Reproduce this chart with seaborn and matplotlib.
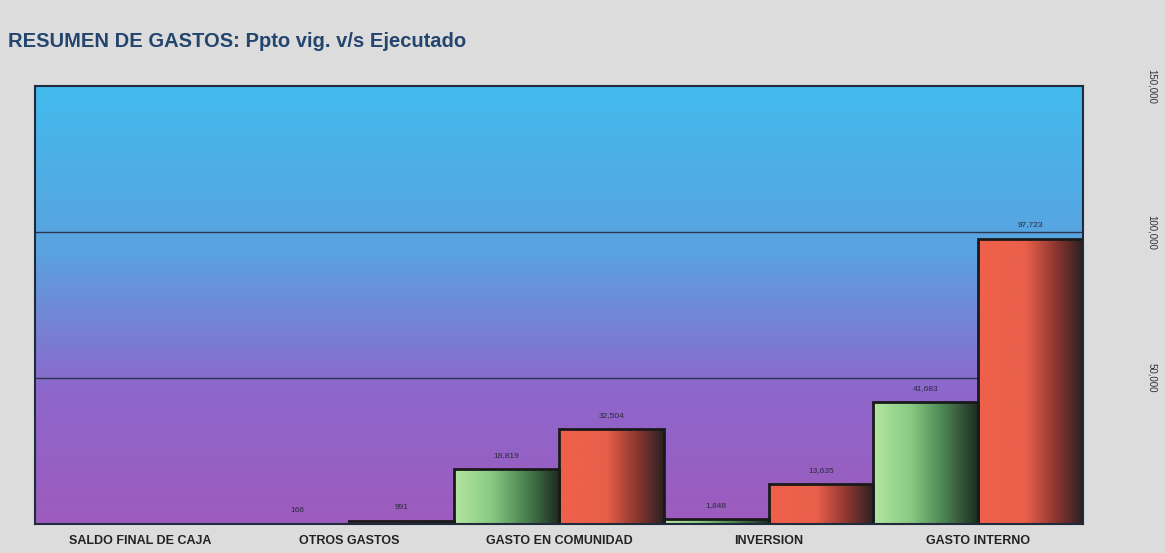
import matplotlib
matplotlib.use("Agg")
import matplotlib.pyplot as plt
import numpy as np
import pandas as pd
import seaborn as sns
from matplotlib.colors import LinearSegmentedColormap

# Data
categories = ["SALDO FINAL DE CAJA", "OTROS GASTOS", "GASTO EN COMUNIDAD",
              "INVERSION", "GASTO INTERNO"]
ppto_vig = [0, 166, 18819, 1848, 41683]
ejecutado = [0, 991, 32504, 13635, 97723]
series_names = ["Ppto vig.", "Ejecutado"]

df = pd.DataFrame({
    "categoria": categories * 2,
    "serie": [series_names[0]] * 5 + [series_names[1]] * 5,
    "valor": ppto_vig + ejecutado,
})

sns.set_style("white")
plt.rcParams["font.family"] = ["Liberation Sans", "DejaVu Sans"]

fig = plt.figure(figsize=(11.65, 5.53), dpi=100)
fig.patch.set_facecolor("#dcdcdc")

ax = fig.add_axes([0.030, 0.052, 0.8996, 0.7925])

sns.barplot(data=df, x="categoria", y="valor", hue="serie", order=categories,
            hue_order=series_names, width=1.0, gap=0, palette=["#7fc77f", "#e85a45"],
            legend=False, ax=ax, zorder=3)

# plot area gradient (sky blue at top, purple at bottom)
bg_cmap = LinearSegmentedColormap.from_list(
    "bg", [(0.0, "#9d5cbd"), (0.30, "#8e66cc"), (0.62, "#5aa2e0"), (1.0, "#42bbec")])
grad = np.linspace(0, 1, 256).reshape(-1, 1)
ax.imshow(grad, cmap=bg_cmap, aspect="auto", extent=[-0.5, 4.5, 0, 150000],
          origin="lower", zorder=0)

# horizontal gradient fills on the bars
green_cmap = LinearSegmentedColormap.from_list(
    "g", [(0.0, "#b4e6a0"), (0.35, "#8acb84"), (0.65, "#4f8a55"), (1.0, "#1e2c22")])
red_cmap = LinearSegmentedColormap.from_list(
    "r", [(0.0, "#f0604a"), (0.45, "#e9604a"), (0.75, "#8a3530"), (1.0, "#2a2222")])
hgrad = np.linspace(0, 1, 256).reshape(1, -1)
n = len(categories)
for i, p in enumerate(ax.patches[:2 * n]):
    x0, w, h = p.get_x(), p.get_width(), p.get_height()
    if h <= 0:
        p.set_visible(False)
        continue
    cmap = green_cmap if i < n else red_cmap
    im = ax.imshow(hgrad, cmap=cmap, aspect="auto", extent=[x0, x0 + w, 0, h],
                   zorder=3)
    im.set_clip_path(p)
    p.set_facecolor("none")
    p.set_edgecolor("#1a1a1a")
    p.set_linewidth(2)
    p.set_zorder(4)
    ax.text(x0 + w / 2, h + 3500, f"{h:,.0f}", ha="center", va="bottom",
            fontsize=6, color="#2a2a3a", zorder=5)

ax.set_xlim(-0.5, 4.5)
ax.set_ylim(0, 150000)

# grid lines
for yv in [50000, 100000]:
    ax.axhline(yv, color="#2b3550", lw=1, zorder=2)

for s in ax.spines.values():
    s.set_color("#1f2a3a")
    s.set_linewidth(1.5)
    s.set_visible(True)
    s.set_zorder(6)

ax.yaxis.tick_right()
ax.set_yticks([50000, 100000, 150000])
ax.set_yticklabels(["50,000", "100,000", "150,000"], rotation=-90,
                   fontsize=7, color="#333333", va="center")
ax.tick_params(axis="y", length=0, pad=46)
ax.tick_params(axis="x", length=0, pad=8)
ax.set_xticks(range(n))
ax.set_xticklabels(categories, fontsize=9, fontweight="bold", color="#222222")
ax.set_xlabel("")
ax.set_ylabel("")

fig.text(0.007, 0.925, "RESUMEN DE GASTOS: Ppto vig. v/s Ejecutado",
         fontsize=14.5, fontweight="bold", color="#24456e", ha="left", va="center")

fig.savefig("out.png", dpi=100, facecolor=fig.get_facecolor())
